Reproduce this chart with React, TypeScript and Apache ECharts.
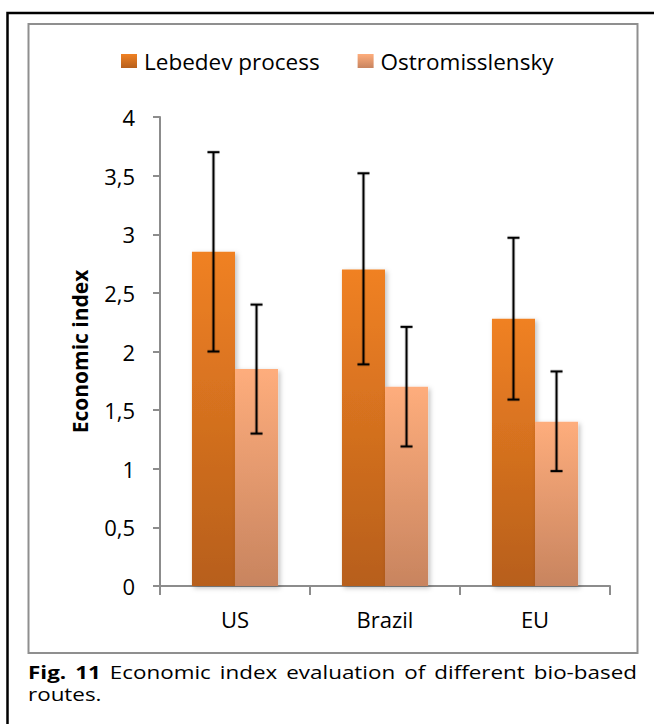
import React, { useEffect, useRef } from "react";
import * as echarts from "echarts";

const categories = ["US", "Brazil", "EU"];
const seriesNames = ["Lebedev process", "Ostromisslensky"];
const lebedevValues = [2.85, 2.7, 2.28];
const ostroValues = [1.85, 1.7, 1.4];
const lebedevErr = [
  [2.0, 3.7],
  [1.89, 3.52],
  [1.59, 2.97],
];
const ostroErr = [
  [1.3, 2.4],
  [1.19, 2.21],
  [0.98, 1.83],
];
const yTicks = ["0", "0,5", "1", "1,5", "2", "2,5", "3", "3,5", "4"];
const captionLine1 = [
  { t: "Fig.", b: true },
  { t: "11", b: true },
  { t: "Economic", b: false },
  { t: "index", b: false },
  { t: "evaluation", b: false },
  { t: "of", b: false },
  { t: "different", b: false },
  { t: "bio-based", b: false },
];
const captionLine2 = "routes.";

const FONT = "'Open Sans', 'Noto Sans', sans-serif";

export default function App() {
  const ref = useRef<HTMLDivElement>(null);
  useEffect(() => {
    if (!ref.current) return;
    const chart = echarts.init(ref.current, null, { renderer: "svg" });
    const grad = (top: string, bottom: string) =>
      new echarts.graphic.LinearGradient(0, 0, 0, 1, [
        { offset: 0, color: top },
        { offset: 1, color: bottom },
      ]);
    const lebColor = grad("#F08123", "#B75F1B");
    const ostColor = grad("#FEAD7C", "#C8845F");

    const errSeries = (idx: number, errs: number[][]) => ({
      type: "custom",
      z: 10,
      silent: true,
      data: errs.map((e, i) => [i, e[0], e[1]]),
      encode: { x: 0, y: [1, 2] },
      renderItem: (params: any, api: any) => {
        const ci = api.value(0);
        const lo = api.coord([ci, api.value(1)]);
        const hi = api.coord([ci, api.value(2)]);
        const bw = api.size([1, 0])[0];
        const barW = bw * 0.287;
        const x = lo[0] + (idx === 0 ? -barW / 2 : barW / 2);
        const cap = 6;
        const halo = { stroke: "rgba(0,0,0,0.15)", lineWidth: 4 };
        const st = { stroke: "#000", lineWidth: 2 };
        const lines = (style: any) => [
          { type: "line", shape: { x1: x, y1: lo[1], x2: x, y2: hi[1] }, style },
          { type: "line", shape: { x1: x - cap, y1: hi[1], x2: x + cap, y2: hi[1] }, style },
          { type: "line", shape: { x1: x - cap, y1: lo[1], x2: x + cap, y2: lo[1] }, style },
        ];
        return {
          type: "group",
          children: [...lines(halo), ...lines(st)],
        };
      },
    });

    const barShadow = {
      shadowColor: "rgba(0,0,0,0.25)",
      shadowBlur: 5,
      shadowOffsetX: 2,
      shadowOffsetY: 2,
    };

    // justified caption line, slightly widened like the reference
    const capSize = 18;
    const ctx = document.createElement("canvas").getContext("2d")!;
    const widths = captionLine1.map((w) => {
      ctx.font = `${w.b ? "bold " : ""}${capSize}px 'Open Sans'`;
      return ctx.measureText(w.t).width;
    });
    const total = widths.reduce((a, b) => a + b, 0);
    const capLeft = 28;
    const capRight = 637;
    const wordGap = 9;
    const sx = (capRight - capLeft - wordGap * (captionLine1.length - 1)) / total;
    let cx = capLeft;
    const captionEls: any[] = captionLine1.map((w, i) => {
      const el = {
        type: "text",
        x: cx,
        y: 672,
        scaleX: sx,
        style: {
          text: w.t,
          font: `${w.b ? "bold " : ""}${capSize}px ${FONT}`,
          fill: "#000",
          verticalAlign: "middle",
        },
      };
      cx += widths[i] * sx + wordGap;
      return el;
    });
    captionEls.push({
      type: "text",
      x: capLeft,
      y: 694,
      scaleX: sx,
      style: {
        text: captionLine2,
        font: `${capSize}px ${FONT}`,
        fill: "#000",
        verticalAlign: "middle",
      },
    });

    chart.setOption({
      animation: false,
      backgroundColor: "#fff",
      textStyle: { fontFamily: FONT },
      grid: { left: 160, right: 44, top: 117, bottom: 138, containLabel: false },
      legend: {
        top: 44,
        left: 116,
        itemWidth: 16,
        itemHeight: 14,
        itemGap: 38,
        icon: "rect",
        textStyle: {
          fontFamily: FONT,
          fontSize: 22.5,
          lineHeight: 24,
          color: "#000",
          padding: [0, 0, 0, 2],
        },
        data: seriesNames,
      },
      xAxis: {
        type: "category",
        data: categories,
        axisLine: { lineStyle: { color: "#8c8c8c", width: 2 } },
        axisTick: { show: true, length: 9, lineStyle: { color: "#8c8c8c", width: 2 } },
        axisLabel: { fontFamily: FONT, fontSize: 22, color: "#000", margin: 22 },
      },
      yAxis: {
        type: "value",
        min: 0,
        max: 4,
        interval: 0.5,
        name: "Economic index",
        nameLocation: "middle",
        nameRotate: 90,
        nameGap: 70,
        nameTextStyle: { fontFamily: FONT, fontSize: 21, fontWeight: "bold", color: "#000" },
        axisLine: { show: true, lineStyle: { color: "#8c8c8c", width: 2 } },
        axisTick: { show: true, length: 7, lineStyle: { color: "#8c8c8c", width: 2 } },
        splitLine: { show: false },
        axisLabel: {
          fontFamily: FONT,
          fontSize: 22,
          color: "#000",
          margin: 25,
          formatter: (v: number) => yTicks[Math.round(v * 2)] ?? String(v),
        },
      },
      series: [
        {
          name: seriesNames[0],
          type: "bar",
          data: lebedevValues,
          barWidth: "28.7%",
          barGap: "0%",
          itemStyle: { color: lebColor, ...barShadow },
        },
        {
          name: seriesNames[1],
          type: "bar",
          data: ostroValues,
          barWidth: "28.7%",
          barGap: "0%",
          itemStyle: { color: ostColor, ...barShadow },
        },
        errSeries(0, lebedevErr),
        errSeries(1, ostroErr),
      ],
      graphic: [
        {
          type: "polyline",
          shape: { points: [[7.5, 724], [7.5, 13], [654, 13]] },
          style: { stroke: "#000", lineWidth: 2.5, fill: "none" },
          z: 0,
        },
        {
          type: "rect",
          shape: { x: 28.5, y: 24, width: 609, height: 629 },
          style: { stroke: "#8f8f8f", lineWidth: 2, fill: "none" },
          z: 0,
        },
        ...captionEls,
      ],
    });
    return () => chart.dispose();
  }, []);
  return (
    <div
      ref={ref}
      style={{ position: "fixed", left: 0, top: 0, width: 654, height: 724 }}
    />
  );
}
